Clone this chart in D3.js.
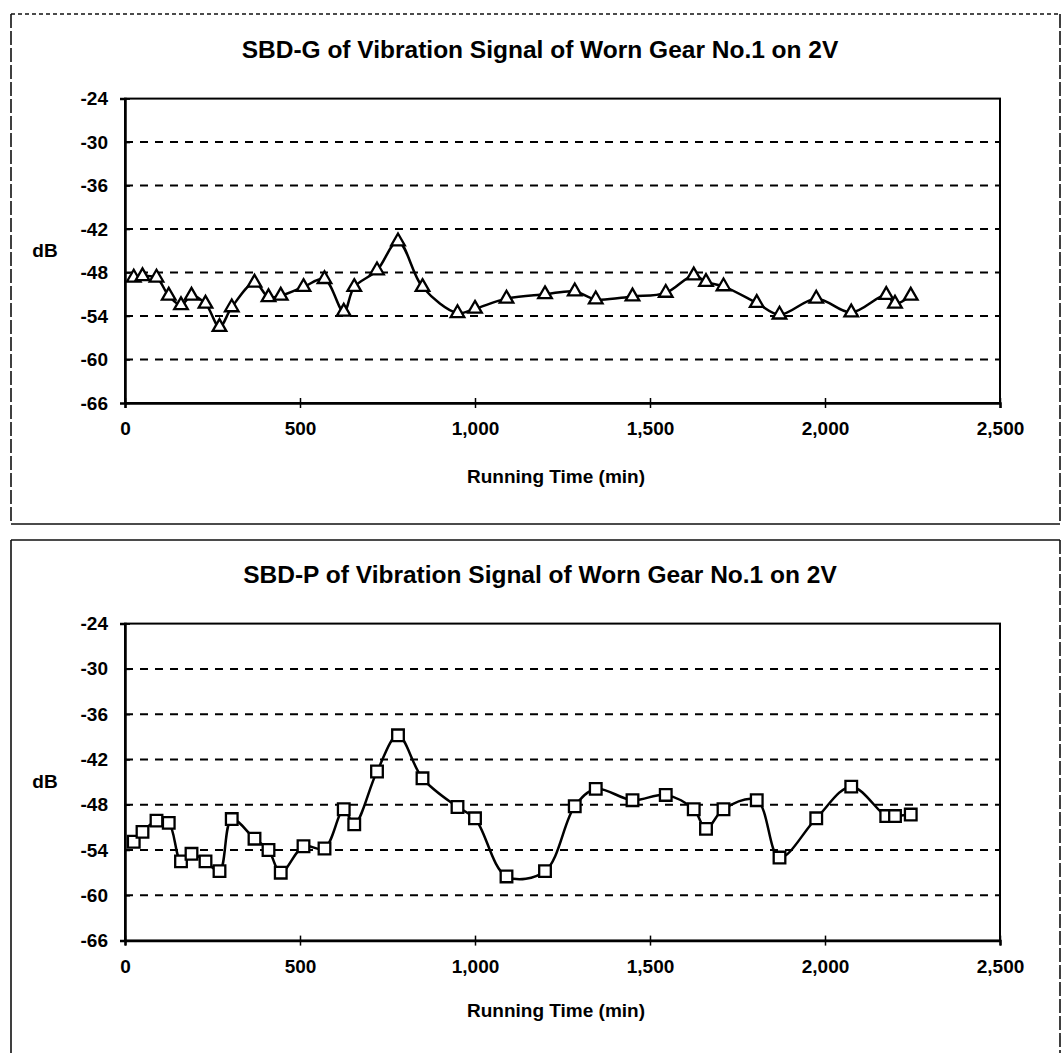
<!DOCTYPE html>
<html>
<head>
<meta charset="utf-8">
<script src="https://cdn.jsdelivr.net/npm/d3@7"></script>
<style>
body { margin: 0; background: #fff; }
text { font-family: "Liberation Sans", Arial, sans-serif; font-weight: bold; fill: #000; }
</style>
</head>
<body>
<svg id="chart" width="1064" height="1053"></svg>
<script>
const runTimes = [25, 50, 90, 125, 160, 190, 230, 270, 305, 370, 410, 445, 510, 570, 625, 655, 720, 780, 850, 950,
    1000, 1090, 1200, 1285, 1345, 1450, 1545, 1625, 1660, 1710, 1805, 1870, 1975, 2075, 2175, 2200, 2245]
const sbdG = [-48.7, -48.5, -48.7, -51.2, -52.5, -51.2, -52.3, -55.5, -52.8, -49.4, -51.4, -51.2, -50.0, -48.9, -53.4, -50.0, -47.7, -43.7, -50.0, -53.6,
    -53.0, -51.6, -51.0, -50.6, -51.7, -51.3, -50.8, -48.4, -49.3, -49.9, -52.2, -53.8, -51.6, -53.5, -51.1, -52.3, -51.2]
const sbdP = [-52.9, -51.6, -50.1, -50.4, -55.5, -54.5, -55.5, -56.8, -49.9, -52.5, -54.0, -57.0, -53.5, -53.8, -48.6, -50.6, -43.6, -38.8, -44.5, -48.3,
    -49.8, -57.5, -56.8, -48.2, -45.9, -47.4, -46.7, -48.6, -51.2, -48.6, -47.4, -55.0, -49.8, -45.6, -49.5, -49.5, -49.3]
const dbTicks = [-24, -30, -36, -42, -48, -54, -60, -66]
const timeTicks = [0, 500, 1000, 1500, 2000, 2500]
const titles = ["SBD-G of Vibration Signal of Worn Gear No.1 on 2V", "SBD-P of Vibration Signal of Worn Gear No.1 on 2V"]
const xTitle = "Running Time (min)"
const yTitle = "dB"

const svg = d3.select("#chart")

const panels = [
    { title: titles[0], values: sbdG, symbol: d3.symbolTriangle, size: 80,
      box: [11, 14, 1060, 524], edges: ["4,3", "14,3", "1,0", "14,3"],
      top: 98.6, bottom: 403, titleY: 49, xTitleY: 476, yTitleY: 250 },
    { title: titles[1], values: sbdP, symbol: d3.symbolSquare, size: 135,
      box: [11, 540, 1060, 1070], edges: ["1,0", "14,3", "1,0", "1,0"],
      top: 623.6, bottom: 940.6, titleY: 574, xTitleY: 1010, yTitleY: 781 }
]

function drawPanel(p) {
    const g = svg.append("g")
    const left = 125, right = 1000
    const [bx0, by0, bx1, by1] = p.box

    // outer frame: top, right, bottom, left
    const edges = [[bx0, by0, bx1, by0], [bx1, by0, bx1, by1], [bx0, by1, bx1, by1], [bx0, by0, bx0, by1]]
    g.selectAll("line.frame").data(edges)
        .enter().append("line")
        .classed("frame", true)
        .attr("x1", d => d[0]).attr("y1", d => d[1])
        .attr("x2", d => d[2]).attr("y2", d => d[3])
        .attr("stroke", "#111").attr("stroke-width", 1.6)
        .attr("stroke-dasharray", (d, i) => p.edges[i])

    const x = d3.scaleLinear().domain([0, 2500]).range([left, right])
    const y = d3.scaleLinear().domain([-66, -24]).range([p.bottom, p.top])

    g.selectAll("line.grid").data(dbTicks.filter(d => d > -66 && d < -24))
        .enter().append("line")
        .classed("grid", true)
        .attr("x1", left).attr("x2", right)
        .attr("y1", d => y(d)).attr("y2", d => y(d))
        .attr("stroke", "#000").attr("stroke-width", 2)
        .attr("stroke-dasharray", "8,7")

    g.append("rect")
        .attr("x", left).attr("y", p.top)
        .attr("width", right - left).attr("height", p.bottom - p.top)
        .attr("fill", "none").attr("stroke", "#000").attr("stroke-width", 2)

    const yAxis = g.append("g")
        .attr("transform", `translate(${left},0)`)
        .call(d3.axisLeft(y).tickValues(dbTicks).tickFormat(d => String(d)).tickSize(5).tickPadding(12))
    yAxis.select(".domain").attr("stroke-width", 2.5)
    yAxis.selectAll(".tick line").attr("x2", 5).attr("stroke-width", 1.5)
    yAxis.selectAll("text").style("font-size", "19px").style("font-family", null)

    const xAxis = g.append("g")
        .attr("transform", `translate(0,${p.bottom})`)
        .call(d3.axisBottom(x).tickValues(timeTicks).tickFormat(d3.format(",")).tickSize(5).tickPadding(14))
    xAxis.select(".domain").attr("stroke-width", 2.5)
    xAxis.selectAll(".tick line").attr("y1", -5).attr("stroke-width", 1.5)
    xAxis.selectAll("text").style("font-size", "19px").style("font-family", null)

    const pts = runTimes.map((t, i) => [t, p.values[i]])

    g.append("path")
        .datum(pts)
        .attr("fill", "none").attr("stroke", "#000").attr("stroke-width", 2.5)
        .attr("stroke-linejoin", "round")
        .attr("d", d3.line().x(d => x(d[0])).y(d => y(d[1])).curve(d3.curveCatmullRom.alpha(0.5)))

    g.selectAll("path.marker").data(pts)
        .enter().append("path")
        .classed("marker", true)
        .attr("transform", d => `translate(${x(d[0])},${y(d[1])})`)
        .attr("d", d3.symbol().type(p.symbol).size(p.size))
        .attr("fill", "#fff").attr("stroke", "#000").attr("stroke-width", 2.3)

    g.append("text")
        .attr("x", 540).attr("y", p.titleY).attr("dy", "0.35em")
        .attr("text-anchor", "middle").style("font-size", "24.5px")
        .text(p.title)

    g.append("text")
        .attr("x", 556).attr("y", p.xTitleY).attr("dy", "0.35em")
        .attr("text-anchor", "middle").style("font-size", "19px")
        .text(xTitle)

    g.append("text")
        .attr("x", 45).attr("y", p.yTitleY).attr("dy", "0.35em")
        .attr("text-anchor", "middle").style("font-size", "19px")
        .text(yTitle)
}

panels.forEach(drawPanel)
</script>
</body>
</html>
